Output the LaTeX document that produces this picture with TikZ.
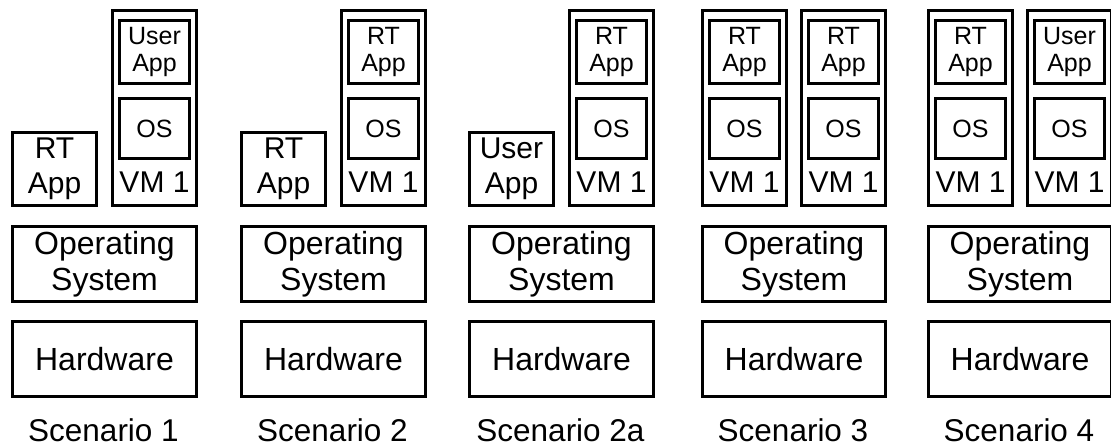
\documentclass[tikz,border=0pt]{standalone}
\usepackage{fontspec}
\setmainfont{Liberation Sans}
\tikzset{
  box/.style={draw=black, line width=3.3pt, inner sep=0pt, align=center},
  bigtxt/.style={font=\fontsize{32}{36}\selectfont},
  apptxt/.style={font=\fontsize{30}{35}\selectfont},
  smalltxt/.style={font=\fontsize{25}{27}\selectfont},
  vmtxt/.style={font=\fontsize{30}{34}\selectfont, inner sep=0pt},
  captxt/.style={font=\fontsize{31.5}{36}\selectfont, inner sep=0pt}
}
% #1 name, #2 outer left x, #3 app text
\newcommand\mkvm[3]{%
  \node[box, minimum width=83.7pt, minimum height=194.7pt] (#1) at (#2+43.5,108) {};
  \node[box, smalltxt, minimum width=69.7pt, minimum height=62.7pt] (#1app) at (#2+43.5,52) {#3};
  \node[box, smalltxt, minimum width=69.7pt, minimum height=59.7pt] (#1os) at (#2+43.5,128.5) {OS};
  \node[vmtxt, anchor=base] (#1lbl) at (#2+43.5,192) {VM 1};
}
% #1 name, #2 outer left x, #3 app text
\newcommand\mkapp[3]{%
  \node[box, apptxt, minimum width=83.7pt, minimum height=72.7pt] (#1) at (#2+43.5,169) {#3};
}
% #1 name, #2 outer left x, #3 outer width, #4 caption
\newcommand\mkbase[4]{%
  \node[box, bigtxt, minimum width=#3pt-3.3pt, minimum height=74.7pt] (#1os) at (#2+#3/2,264) {Operating\\System};
  \node[box, bigtxt, minimum width=#3pt-3.3pt, minimum height=74.7pt] (#1hw) at (#2+#3/2,359) {Hardware};
  \node[captxt, anchor=base] (#1cap) at (#2+#3/2-1,441) {#4};
}
\begin{document}
\begin{tikzpicture}[x=1pt, y=-1pt]
\useasboundingbox (0,0) rectangle (1111,447);
\fill[white] (0,0) rectangle (1111,447);
% Scenario 1
\mkapp{sa}{11}{RT\\App}
\mkvm{sav}{111}{User\\App}
\mkbase{sa}{11}{187}{Scenario 1}
% Scenario 2
\mkapp{sb}{240}{RT\\App}
\mkvm{sbv}{340}{RT\\App}
\mkbase{sb}{240}{187}{Scenario 2}
% Scenario 2a
\mkapp{sc}{468}{User\\App}
\mkvm{scv}{568}{RT\\App}
\mkbase{sc}{468}{187}{Scenario 2a}
% Scenario 3
\mkvm{sdv}{701}{RT\\App}
\mkvm{sdw}{800}{RT\\App}
\mkbase{sd}{701}{186}{Scenario 3}
% Scenario 4
\mkvm{sev}{927}{RT\\App}
\mkvm{sew}{1026}{User\\App}
\mkbase{se}{927}{186}{Scenario 4}
\end{tikzpicture}
\end{document}
